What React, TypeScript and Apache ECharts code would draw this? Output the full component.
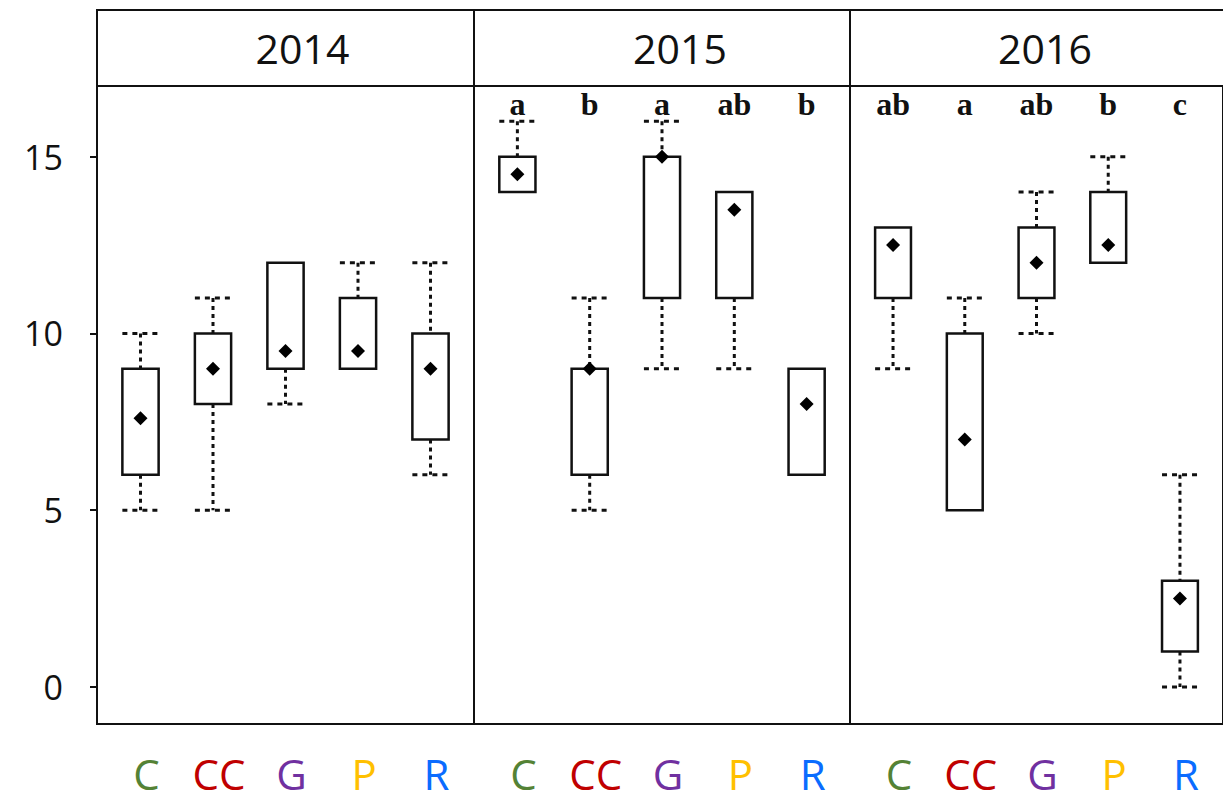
import React, { useEffect, useRef } from "react";
import * as echarts from "echarts";

// ---------- data ----------
const CATEGORIES = ["C", "CC", "G", "P", "R"];
const YEARS = ["2014", "2015", "2016"];
const Y_TICKS = [0, 5, 10, 15];

const Y2014_MIN = [5, 5, 8, 9, 6];
const Y2014_Q1 = [6, 8, 9, 9, 7];
const Y2014_Q3 = [9, 10, 12, 11, 10];
const Y2014_MAX = [10, 11, 12, 12, 12];
const Y2014_MEAN = [7.6, 9, 9.5, 9.5, 9];
const Y2014_LETTERS = ["", "", "", "", ""];

const Y2015_MIN = [14, 5, 9, 9, 6];
const Y2015_Q1 = [14, 6, 11, 11, 6];
const Y2015_Q3 = [15, 9, 15, 14, 9];
const Y2015_MAX = [16, 11, 16, 14, 9];
const Y2015_MEAN = [14.5, 9, 15, 13.5, 8];
const Y2015_LETTERS = ["a", "b", "a", "ab", "b"];

const Y2016_MIN = [9, 5, 10, 12, 0];
const Y2016_Q1 = [11, 5, 11, 12, 1];
const Y2016_Q3 = [13, 10, 13, 14, 3];
const Y2016_MAX = [13, 11, 14, 15, 6];
const Y2016_MEAN = [12.5, 7, 12, 12.5, 2.5];
const Y2016_LETTERS = ["ab", "a", "ab", "b", "c"];

const PANELS = [
  { min: Y2014_MIN, q1: Y2014_Q1, q3: Y2014_Q3, max: Y2014_MAX, mean: Y2014_MEAN, letters: Y2014_LETTERS },
  { min: Y2015_MIN, q1: Y2015_Q1, q3: Y2015_Q3, max: Y2015_MAX, mean: Y2015_MEAN, letters: Y2015_LETTERS },
  { min: Y2016_MIN, q1: Y2016_Q1, q3: Y2016_Q3, max: Y2016_MAX, mean: Y2016_MEAN, letters: Y2016_LETTERS },
];

// ---------- style / layout ----------
const CATEGORY_COLORS = ["#548235", "#C00000", "#7030A0", "#FFC000", "#0A6CFF"];
const PANEL_LEFT = [97, 474, 850];
const PANEL_WIDTH = [377, 376, 380];
const HEADER_TEXT_OFFSET = [17, 18, 5];
const PLOT_TOP = 86;
const PLOT_HEIGHT = 638;
const LETTER_Y = 16.5;
const SANS = "'Open Sans', 'Noto Sans', sans-serif";
const SERIF = "'Liberation Serif', 'DejaVu Serif', serif";

export default function App() {
  const ref = useRef<HTMLDivElement>(null);

  useEffect(() => {
    const chart = echarts.init(ref.current!, null, { renderer: "svg" });

    const rich: any = {};
    CATEGORIES.forEach((c, i) => {
      rich["c" + i] = {
        color: CATEGORY_COLORS[i],
        fontSize: 42,
        fontFamily: SANS,
        padding: [0, 0, 0, 12],
      };
    });

    const grids = PANEL_LEFT.map((l, i) => ({
      left: l,
      top: PLOT_TOP,
      width: PANEL_WIDTH[i],
      height: PLOT_HEIGHT,
      show: true,
      borderColor: "#111",
      borderWidth: 2,
      backgroundColor: "transparent",
    }));

    const xAxes = PANEL_LEFT.map((_, i) => ({
      type: "value",
      gridIndex: i,
      min: -0.6,
      max: 4.6,
      splitLine: { show: false },
      axisLine: { show: false, onZero: false },
      axisTick: { show: false },
      axisLabel: {
        customValues: [0, 1, 2, 3, 4],
        margin: 28,
        formatter: (v: number) => {
          const k = Math.round(v);
          if (Math.abs(v - k) > 1e-6 || k < 0 || k > 4) return "";
          return "{c" + k + "|" + CATEGORIES[k] + "}";
        },
        rich,
      },
    }));

    const yAxes = PANEL_LEFT.map((_, i) => ({
      type: "value",
      gridIndex: i,
      min: -1.05,
      max: 17,
      splitLine: { show: false },
      axisLine: { show: i === 0, onZero: false, lineStyle: { color: "#111", width: 2 } },
      axisTick: {
        show: i === 0,
        customValues: Y_TICKS,
        length: 7,
        lineStyle: { color: "#111", width: 2 },
      },
      axisLabel: {
        show: i === 0,
        customValues: Y_TICKS,
        fontSize: 34,
        fontFamily: SANS,
        color: "#111",
        margin: 34,
      },
    }));

    const series: any[] = [];
    PANELS.forEach((p, i) => {
      series.push({
        type: "custom",
        xAxisIndex: i,
        yAxisIndex: i,
        z: 2,
        data: CATEGORIES.map((_, j) => [j, p.min[j], p.q1[j], p.q3[j], p.max[j]]),
        renderItem: (params: any, api: any) => {
          const x = api.value(0);
          const lo = api.value(1);
          const q1 = api.value(2);
          const q3 = api.value(3);
          const hi = api.value(4);
          const w = api.size([0.5, 0])[0];
          const pTop = api.coord([x, q3]);
          const pBot = api.coord([x, q1]);
          const pLo = api.coord([x, lo]);
          const pHi = api.coord([x, hi]);
          const cx = pTop[0];
          const whisker = { stroke: "#111", lineWidth: 3, lineDash: [4, 4] };
          const cap = { stroke: "#111", lineWidth: 3, lineDash: [5, 5] };
          const children: any[] = [];
          if (hi > q3) {
            children.push({ type: "line", shape: { x1: cx, y1: pHi[1], x2: cx, y2: pTop[1] }, style: whisker });
            children.push({ type: "line", shape: { x1: cx - w / 2, y1: pHi[1], x2: cx + w / 2, y2: pHi[1] }, style: cap });
          }
          if (lo < q1) {
            children.push({ type: "line", shape: { x1: cx, y1: pBot[1], x2: cx, y2: pLo[1] }, style: whisker });
            children.push({ type: "line", shape: { x1: cx - w / 2, y1: pLo[1], x2: cx + w / 2, y2: pLo[1] }, style: cap });
          }
          children.push({
            type: "rect",
            shape: { x: cx - w / 2, y: pTop[1], width: w, height: pBot[1] - pTop[1] },
            style: { fill: "#fff", stroke: "#111", lineWidth: 2.5 },
          });
          return { type: "group", children };
        },
      });
      series.push({
        type: "scatter",
        xAxisIndex: i,
        yAxisIndex: i,
        z: 5,
        symbol: "diamond",
        symbolSize: 14,
        itemStyle: { color: "#000", opacity: 1 },
        data: CATEGORIES.map((_, j) => [j, p.mean[j]]),
      });
      series.push({
        type: "custom",
        xAxisIndex: i,
        yAxisIndex: i,
        z: 6,
        data: CATEGORIES.map((_, j) => [j, LETTER_Y]),
        renderItem: (params: any, api: any) => {
          const pt = api.coord([api.value(0), api.value(1)]);
          return {
            type: "text",
            x: pt[0],
            y: pt[1],
            style: {
              text: p.letters[params.dataIndex],
              fontSize: 32,
              fontWeight: "bold",
              fontFamily: SERIF,
              fill: "#111",
              align: "center",
              verticalAlign: "middle",
            },
          };
        },
      });
    });

    const graphic: any[] = [];
    PANEL_LEFT.forEach((l, i) => {
      graphic.push({
        type: "rect",
        shape: { x: l, y: 10, width: PANEL_WIDTH[i], height: PLOT_TOP - 10 },
        style: { fill: "none", stroke: "#111", lineWidth: 2 },
      });
      graphic.push({
        type: "text",
        x: l + PANEL_WIDTH[i] / 2 + HEADER_TEXT_OFFSET[i],
        y: 48,
        style: {
          text: YEARS[i],
          fontSize: 41,
          fontFamily: SANS,
          fill: "#111",
          align: "center",
          verticalAlign: "middle",
        },
      });
    });

    chart.setOption({
      animation: false,
      backgroundColor: "#fff",
      grid: grids,
      xAxis: xAxes,
      yAxis: yAxes,
      series,
      graphic,
    });

    return () => chart.dispose();
  }, []);

  return (
    <div
      ref={ref}
      style={{ position: "fixed", left: 0, top: 0, width: 1223, height: 801, background: "#fff" }}
    />
  );
}
